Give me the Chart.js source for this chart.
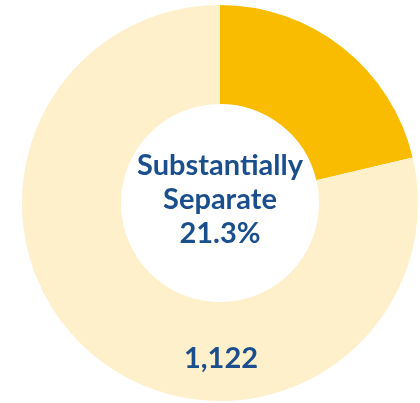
<!DOCTYPE html>
<html>
<head>
<meta charset="utf-8">
<script src="https://cdn.jsdelivr.net/npm/chart.js@4"></script>
<style>
  html, body { margin: 0; padding: 0; background: #fff; }
  #wrap { width: 420px; height: 403px; }
</style>
</head>
<body>
<div id="wrap"><canvas id="myChart"></canvas></div>
<script>
const labels = ["Substantially Separate", "Other"];
const values = [21.3, 78.7];
const colors = ["#F9BC00", "#FFF0CC"];
const centerLines = ["Substantially", "Separate", "21.3%"];
const countLabel = "1,122";

const textColor = "#1A4E8C";

// Texte au centre et en bas de l'anneau
const centerText = {
  id: "centerText",
  afterDraw(chart) {
    const ctx = chart.ctx;
    const arc = chart.getDatasetMeta(0).data[0];
    const x = arc.x, y = arc.y;
    ctx.save();
    ctx.fillStyle = textColor;
    ctx.font = "bold 29px Lato";
    ctx.textAlign = "center";
    ctx.textBaseline = "alphabetic";
    const base = [175, 209, 243];
    centerLines.forEach((t, i) => ctx.fillText(t, x, y - 203 + base[i]));
    ctx.fillText(countLabel, x + 1, y - 203 + 368);
    ctx.restore();
  }
};

new Chart(document.getElementById("myChart"), {
  type: "doughnut",
  data: {
    labels: labels,
    datasets: [{
      data: values,
      backgroundColor: colors,
      borderWidth: 0
    }]
  },
  options: {
    responsive: true,
    maintainAspectRatio: false,
    animation: false,
    cutout: "50%",
    layout: { padding: { left: 22, right: 2, top: 5, bottom: 2 } },
    plugins: {
      legend: { display: false },
      tooltip: { enabled: false }
    }
  },
  plugins: [centerText]
});
</script>
</body>
</html>
